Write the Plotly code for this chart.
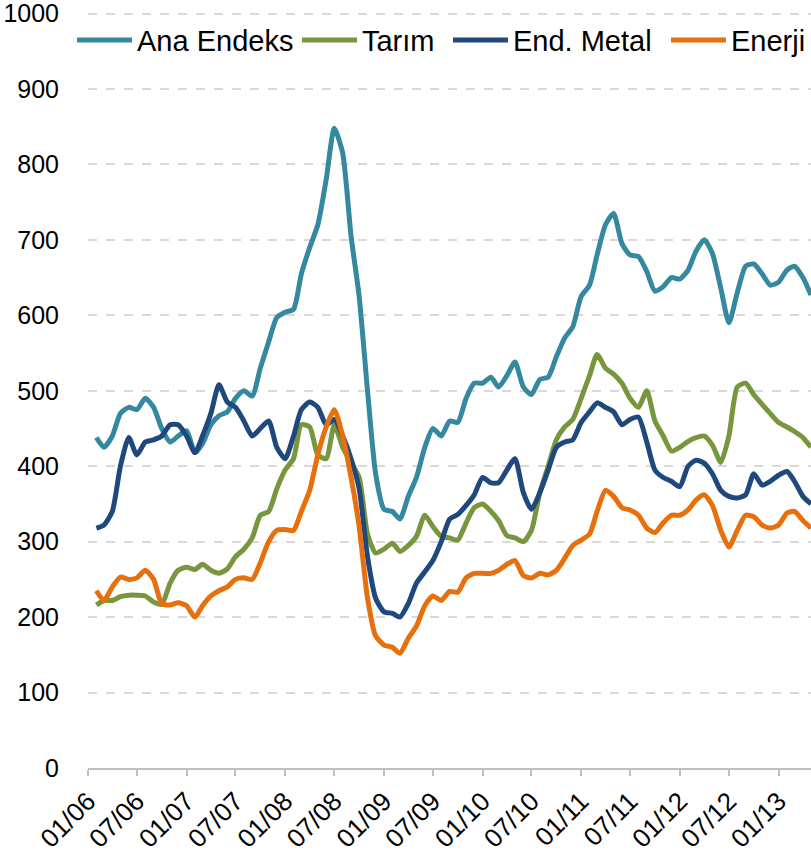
import pandas as pd
import plotly.graph_objects as go

# monthly readings, Feb 2006 .. May 2013
dates = pd.date_range('2006-02-01', '2013-05-01', freq='MS')

ana_endeks = [
  438, 425, 440, 470, 478, 475, 490, 478, 450, 432, 440,
  447, 418, 430, 455, 467, 472, 490, 500, 493, 530, 565, 597,
  604, 608, 655, 690, 720, 780, 848, 815, 705, 625, 500, 390,
  343, 340, 330, 360, 385, 425, 450, 440, 460, 458, 490, 510,
  510, 518, 505, 520, 538, 505, 495, 515, 518, 545, 570, 585,
  625, 640, 680, 720, 735, 695, 680, 678, 658, 632, 638, 650,
  648, 660, 685, 700, 682, 636, 590, 630, 665, 668, 655, 640,
  644, 660, 665, 650, 627,
]
tarim = [
  216, 222, 222, 227, 229, 229, 228, 220, 217, 245, 262,
  266, 263, 270, 262, 258, 264, 280, 290, 305, 335, 340, 370,
  395, 410, 455, 452, 415, 410, 455, 425, 405, 385, 310, 285,
  290, 298, 287, 295, 307, 335, 320, 307, 305, 302, 325, 345,
  350, 340, 328, 308, 305, 300, 315, 365, 400, 435, 452, 462,
  490, 520, 548, 530, 522, 510, 490, 478, 500, 460, 440, 420,
  425, 433, 438, 440, 428, 405, 440, 505, 510, 495, 482, 470,
  458, 452, 446, 438, 425,
]
end_metal = [
  318, 322, 340, 400, 438, 415, 432, 435, 440, 455, 455,
  440, 418, 440, 470, 508, 485, 478, 460, 440, 450, 460, 425,
  410, 440, 475, 485, 478, 455, 462, 440, 410, 370, 280, 225,
  207, 205, 200, 218, 245, 260, 275, 300, 330, 336, 348, 362,
  385, 378, 378, 395, 410, 365, 343, 365, 395, 425, 432, 435,
  458, 472, 484, 478, 472, 455, 462, 465, 432, 395, 385, 380,
  373, 400, 408, 404, 390, 368, 360, 358, 362, 390, 375, 380,
  388, 393, 380, 360, 350,
]
enerji = [
  235, 222, 240, 253, 250, 252, 262, 250, 218, 216, 219,
  215, 200, 215, 228, 235, 240, 250, 252, 250, 272, 300, 315,
  316, 315, 340, 368, 415, 452, 475, 440, 385, 320, 225, 175,
  163, 160, 152, 172, 188, 215, 228, 222, 234, 233, 252, 258,
  258, 258, 262, 270, 275, 255, 252, 258, 256, 262, 278, 295,
  302, 310, 340, 368, 360, 345, 342, 335, 318, 312, 325, 335,
  335, 342, 355, 362, 348, 315, 293, 315, 335, 333, 322, 318,
  322, 338, 340, 328, 318,
]

series = [
  ('Ana Endeks', ana_endeks, '#34889f'),
  ('Tarım', tarim, '#77963d'),
  ('End. Metal', end_metal, '#1f497d'),
  ('Enerji', enerji, '#e8700c'),
]
# one legend per series so each entry sits where the original puts it
legend_ids = ['legend', 'legend2', 'legend3', 'legend4']
legend_x = [0.0888, 0.3662, 0.5524, 0.8212]

fig = go.Figure()
for (name, values, color), lid in zip(series, legend_ids):
  fig.add_trace(go.Scatter(
    x=dates, y=values, name=name, mode='lines', legend=lid,
    line=dict(color=color, width=5, shape='spline', smoothing=0.6),
  ))

fig.update_layout(
  width=811, height=855,
  margin=dict(l=88, r=0, t=12, b=87, autoexpand=False),
  paper_bgcolor='white', plot_bgcolor='white',
  font=dict(family='Liberation Sans', size=25, color='#000'),
  showlegend=True,
)
for lid, lx in zip(legend_ids, legend_x):
  fig.update_layout({lid: dict(
    orientation='h', xref='container', yref='container',
    x=lx, y=0.953, xanchor='left', yanchor='middle',
    font=dict(size=29), itemwidth=55, bgcolor='rgba(0,0,0,0)',
  )})

fig.update_xaxes(
  range=['2006-01-01', '2013-05-01'], automargin=False,
  tick0='2006-01-01', dtick='M6', tickformat='%m/%y', tickangle=-45,
  tickfont=dict(size=26), ticklabeloverflow='allow',
  showgrid=False, showline=True, linecolor='#bfbfbf', linewidth=1.5,
  ticks='outside', ticklen=6, tickcolor='#bfbfbf', tickwidth=1.5,
)
fig.update_yaxes(
  range=[0, 1002], tickvals=list(range(0, 1001, 100)),
  showline=False, zeroline=False, ticklabeloverflow='allow',
  gridcolor='#d9d9d9', gridwidth=1.5, griddash='dash',
  ticklabelstandoff=28,
)

# drop the default page margin so the figure fills the window exactly
fig.write_html(
  'out.html',
  config={'displayModeBar': False},
  post_script="document.body.style.margin='0px';",
)
